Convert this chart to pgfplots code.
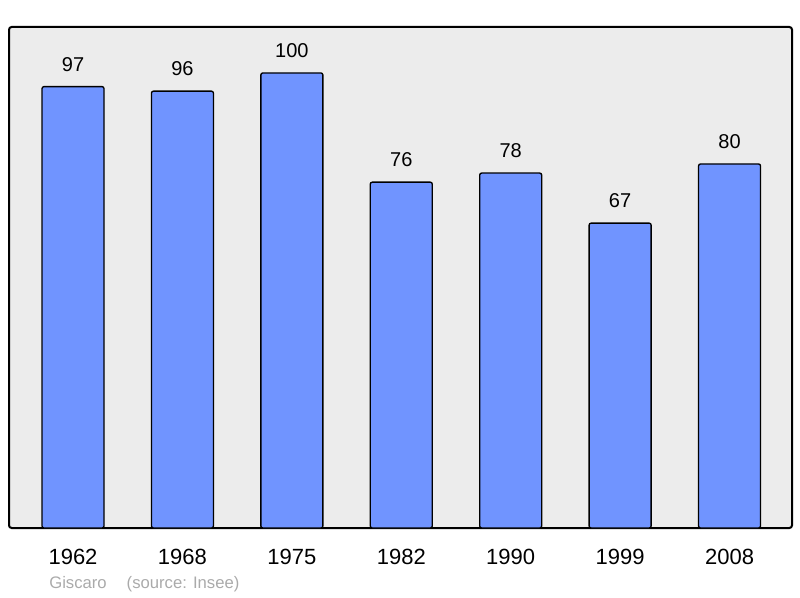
\documentclass[border=0pt]{standalone}
\usepackage{pgfplots}
\pgfplotsset{compat=1.18}
\usepackage{fontspec}
\setmainfont{Liberation Sans}
\definecolor{barblue}{HTML}{7094FF}
\definecolor{panel}{HTML}{ECECEC}
\definecolor{footgrey}{HTML}{AAAAAA}

% 1px = 0.75pt; page 800x598 px
\begin{document}
\begin{tikzpicture}
\begin{axis}[
    scale only axis,
    width=587.25pt, height=375.75pt,
    xmin=-0.585, xmax=6.571,
    ymin=0, ymax=110.1,
    ybar, bar width=46.5pt, bar shift=0pt,
    axis background/.style={fill=panel},
    axis line style={line width=1.5pt, rounded corners=2pt},
    xtick={0,...,6},
    xticklabels={1962,1968,1975,1982,1990,1999,2008},
    xtick style={draw=none},
    ytick=\empty,
    xticklabel style={font=\fontsize{16.5pt}{18pt}\selectfont, anchor=north, inner sep=0pt, yshift=-11.5pt},
    /pgf/number format/assume math mode=true,
    nodes near coords,
    every node near coord/.append style={font=\fontsize{15pt}{16pt}\selectfont, anchor=south, inner sep=0pt, yshift=11pt},
    clip=false,
]
\addplot[fill=barblue, draw=black, line width=1pt, rounded corners=1.5pt]
    coordinates {(0,97) (1,96) (2,100) (3,76) (4,78) (5,67) (6,80)};
\path (rel axis cs:-0.0115,-0.1397) rectangle (rel axis cs:1.0102,1.0539);
\node[anchor=west, inner sep=0pt, text=footgrey, font=\fontsize{12.5pt}{14pt}\selectfont]
    at ([yshift=-42.5pt]rel axis cs:0.0511,0) {Giscaro\hspace{15pt}(source: Insee)};
\end{axis}
\end{tikzpicture}
\end{document}
